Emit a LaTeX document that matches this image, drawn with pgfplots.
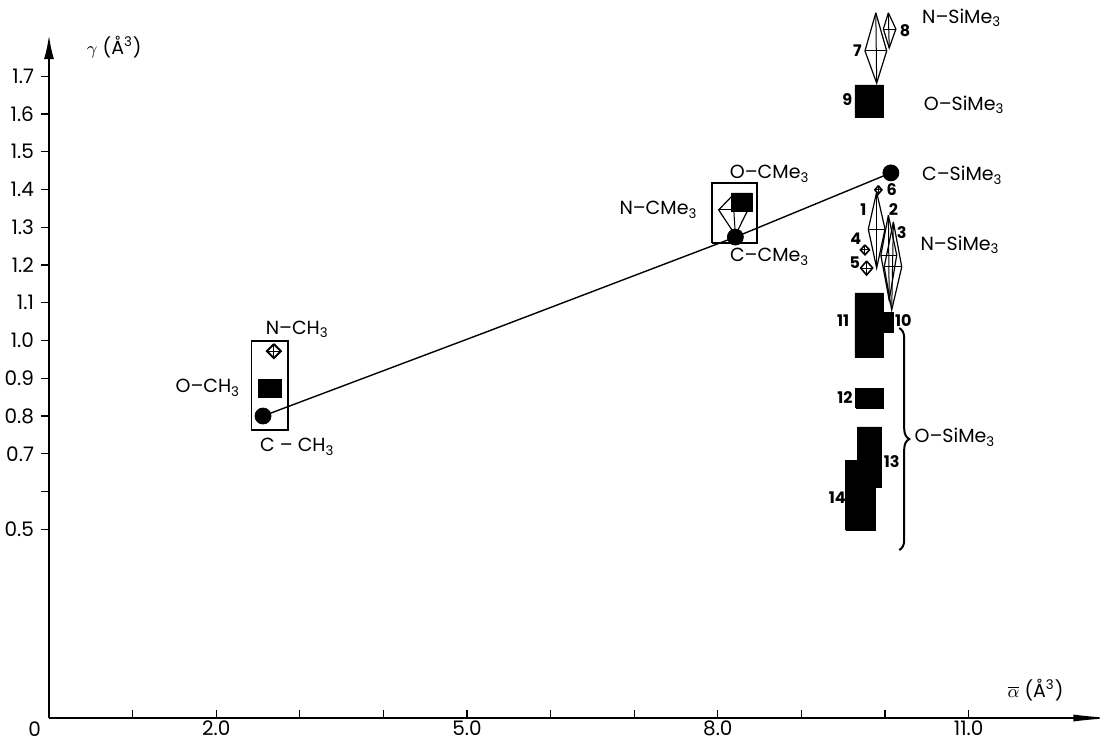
\documentclass[border=0pt]{standalone}
\usepackage{fontspec}
\setmainfont{Poppins}
\usepackage{pgfplots}
\pgfplotsset{compat=1.18}
\usetikzlibrary{arrows.meta,decorations.pathreplacing}

% kite/diamond: [lw] {xtop}{ytop}{xbot}{ybot}{xleft}{xright}{ymid}
\newcommand{\kite}[8][0.6pt]{%
  \addplot[black, line width=#1, line join=miter] coordinates {(#2,#3) (#7,#8) (#4,#5) (#6,#8) (#2,#3)};
  \addplot[black, line width=0.5pt] coordinates {(#6,#8) (#7,#8)};
  \addplot[black, line width=0.5pt] coordinates {(#2,#3) (#4,#5)};
}
% filled rectangle: {x1}{x2}{y1}{y2}
\newcommand{\rect}[4]{%
  \addplot[fill=black, draw=black, line width=0.3pt] coordinates {(#1,#3) (#2,#3) (#2,#4) (#1,#4) (#1,#3)};
}
\newcommand{\lab}{\fontsize{9.5}{11}\selectfont}
\newcommand{\num}{\fontsize{8}{9}\selectfont\bfseries}

\begin{document}
\begin{tikzpicture}
\begin{axis}[
  x=41.8pt, y=188.75pt,
  xmin=0, xmax=12.73, ymin=0, ymax=1.809,
  axis lines=left,
  x axis line style={line width=0.8pt, -{Latex[length=20pt,width=3.5pt]}},
  y axis line style={line width=1pt, -{Latex[length=12pt,width=5pt]}},
  xtick={1,2,3,4,5,6,7,8,9,10,11},
  xticklabels={,2.0,,,5.0,,,8.0,,,11.0},
  ytick={0.5,0.6,0.7,0.8,0.9,1.0,1.1,1.2,1.3,1.4,1.5,1.6,1.7},
  yticklabels={0.5,,0.7,0.8,0.9,1.0,1.1,1.2,1.3,1.4,1.5,1.6,1.7},
  tick align=outside,
  major tick length=4pt,
  xtick style={black, line width=0.6pt, yshift=4pt},
  ytick style={black, line width=0.6pt},
  /pgf/number format/assume math mode=true,
  tick label style={font=\fontsize{10}{12}\selectfont},
  x tick label style={inner sep=0pt, yshift=2.8pt},
  clip=false,
]
% main line
\addplot[black, line width=0.7pt] coordinates {(2.56,0.80) (5.2,1.02) (8.21,1.274) (10.07,1.444)};

% boxes
\addplot[black, line width=0.8pt] coordinates {(2.42,0.763) (2.86,0.763) (2.86,0.999) (2.42,0.999) (2.42,0.763)};
\addplot[black, line width=0.8pt] coordinates {(7.93,1.258) (8.47,1.258) (8.47,1.417) (7.93,1.417) (7.93,1.258)};

% rectangles (O-)
\rect{2.50}{2.78}{0.850}{0.898}
\rect{8.16}{8.41}{1.343}{1.391}
\rect{9.64}{9.98}{1.592}{1.677}
\rect{9.64}{9.98}{0.956}{1.126}
\rect{9.94}{10.10}{1.023}{1.075}
\rect{9.65}{9.98}{0.821}{0.874}
\rect{9.67}{9.96}{0.612}{0.771}
\rect{9.53}{9.88}{0.498}{0.683}

% kites (N-)
\kite[1pt]{2.69}{0.9905}{2.69}{0.9535}{2.606}{2.774}{0.972}
\kite{8.18}{1.385}{8.21}{1.279}{8.01}{8.36}{1.346}
\kite{9.90}{1.393}{9.90}{1.192}{9.80}{10.00}{1.295}
\kite{10.04}{1.332}{10.05}{1.107}{9.95}{10.14}{1.226}
\kite{10.10}{1.314}{10.08}{1.081}{9.99}{10.20}{1.195}
\kite{9.89}{1.868}{9.90}{1.682}{9.76}{10.02}{1.767}
\kite{10.04}{1.868}{10.05}{1.775}{9.98}{10.13}{1.825}
\kite[0.8pt]{9.92}{1.410}{9.92}{1.388}{9.878}{9.962}{1.399}
\kite[0.8pt]{9.76}{1.253}{9.76}{1.227}{9.706}{9.814}{1.240}
\kite[0.8pt]{9.78}{1.2105}{9.78}{1.1735}{9.708}{9.852}{1.192}

% circles (C-)
\addplot[only marks, mark=*, mark size=4pt, black] coordinates {(2.56,0.80) (8.21,1.274) (10.07,1.444)};

% brace
\draw[decorate, decoration={brace, amplitude=5pt}, line width=1pt] (axis cs:10.17,1.033) -- (axis cs:10.17,0.445);

% group labels
\node[font=\lab] at (axis cs:2.97,1.030) {N--CH\textsubscript{3}};
\node[font=\lab, anchor=east] at (axis cs:2.37,0.874) {O--CH\textsubscript{3}};
\node[font=\lab] at (axis cs:2.97,0.718) {C -- CH\textsubscript{3}};
\node[font=\lab] at (axis cs:8.62,1.441) {O--CMe\textsubscript{3}};
\node[font=\lab, anchor=east] at (axis cs:7.84,1.346) {N--CMe\textsubscript{3}};
\node[font=\lab] at (axis cs:8.62,1.221) {C--CMe\textsubscript{3}};
\node[font=\lab, anchor=west] at (axis cs:10.36,1.855) {N--SiMe\textsubscript{3}};
\node[font=\lab, anchor=west] at (axis cs:10.38,1.624) {O--SiMe\textsubscript{3}};
\node[font=\lab, anchor=west] at (axis cs:10.36,1.438) {C--SiMe\textsubscript{3}};
\node[font=\lab, anchor=west] at (axis cs:10.34,1.253) {N--SiMe\textsubscript{3}};
\node[font=\lab, anchor=west] at (axis cs:10.27,0.744) {O--SiMe\textsubscript{3}};

% numbers
\node[font=\num] at (axis cs:9.67,1.767) {7};
\node[font=\num] at (axis cs:10.24,1.820) {8};
\node[font=\num] at (axis cs:9.55,1.637) {9};
\node[font=\num] at (axis cs:10.08,1.399) {6};
\node[font=\num] at (axis cs:9.74,1.346) {1};
\node[font=\num] at (axis cs:10.10,1.346) {2};
\node[font=\num] at (axis cs:10.20,1.287) {3};
\node[font=\num] at (axis cs:9.65,1.269) {4};
\node[font=\num] at (axis cs:9.64,1.205) {5};
\node[font=\num] at (axis cs:9.50,1.052) {11};
\node[font=\num] at (axis cs:10.22,1.052) {10};
\node[font=\num] at (axis cs:9.52,0.848) {12};
\node[font=\num] at (axis cs:10.08,0.678) {13};
\node[font=\num] at (axis cs:9.43,0.583) {14};

% axis titles
\node[font=\lab, anchor=west] at (axis cs:0.37,1.777) {$\gamma$ (Å\textsuperscript{3})};
\node[font=\lab] at (axis cs:11.8,0.074) {$\overline{\alpha}$ (Å\textsuperscript{3})};
\node[font=\fontsize{10}{12}\selectfont, inner sep=0pt] at (axis cs:-0.17,-0.030) {0};

\coordinate (bbl) at (axis cs:-0.586,-0.0625);
\coordinate (btr) at (axis cs:12.727,1.902);
\end{axis}
\pgfresetboundingbox
\path[use as bounding box] (bbl) rectangle (btr);
\end{tikzpicture}
\end{document}
